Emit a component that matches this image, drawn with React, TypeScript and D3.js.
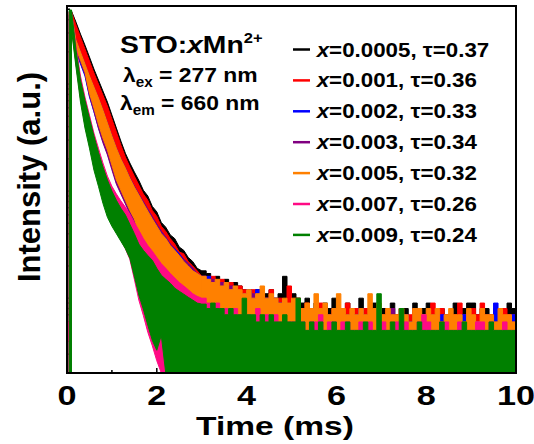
import React from "react";
import * as d3 from "d3";

const WIDTH = 534;
const HEIGHT = 444;
const PLOT = { left: 67, right: 516, top: 6, bottom: 373 };

const X_DOMAIN = [0, 10];
const Y_DOMAIN = [2, 5360];
const X_MAJOR = [0, 2, 4, 6, 8, 10];
const X_MINOR = [1, 3, 5, 7, 9];
const SAMPLE_STEP = 0.1; // ms between samples
const ONSET_TIME = 0.05; // ms, rise of the pulse
const DECAY_SAMPLES = 30; // samples t = 0.1 ... 3.0 ms (smooth decay part)

const CONCENTRATIONS = ["0.0005", "0.001", "0.002", "0.003", "0.005", "0.007", "0.009"];
const LIFETIMES = ["0.37", "0.36", "0.33", "0.34", "0.32", "0.26", "0.24"];
const COLORS = ["#000000", "#ff0000", "#0000ff", "#800080", "#ff8000", "#ff0a84", "#008000"];

// counts before onset (t = 0)
const PRE_ONSET_HI = [0, 0, 0, 0, 0, 6, 0];
const PRE_ONSET_LO = [0, 0, 0, 0, 0, 4, 0];

// upper envelope of counts, t = 0.1 ... 10.0 ms
const BLACK_HI = [
  4810, 3790, 2930, 2310, 1790, 1380, 1090, 861, 679, 513, 388, 293, 226, 183, 151, 126, 102, 90, 72, 64, 51, 46, 39, 36, 30, 28, 24, 22, 19, 18,
  17, 15, 16, 14, 15, 13, 14, 13, 12,
  12, 11, 12, 10, 11, 12, 10, 11, 16, 10,
  11, 10, 9, 10, 8, 9, 7, 9, 8, 10,
  7, 8, 9, 8, 7, 10, 8, 6, 9, 7,
  8, 7, 9, 7, 8, 8, 6, 9, 7, 8,
  9, 8, 7, 8, 6, 7, 9, 7, 8, 9,
  9, 7, 8, 8, 7, 6, 8, 7, 9, 8, 9,
];
const RED_HI = [
  4710, 3560, 2750, 2125, 1640, 1268, 1000, 789, 623, 471, 356, 269, 208, 168, 138, 114, 94, 82, 66, 58, 47, 42, 36, 32, 27, 26, 22, 20, 18, 16,
  15, 16, 14, 15, 13, 14, 12, 13, 12,
  11, 12, 10, 11, 10, 12, 9, 10, 9, 13,
  9, 10, 8, 9, 8, 8, 9, 8, 7, 8,
  8, 7, 9, 7, 8, 7, 8, 7, 7, 8,
  7, 8, 7, 7, 8, 7, 7, 8, 7, 7,
  7, 9, 7, 8, 7, 7, 7, 9, 7, 7,
  8, 7, 9, 7, 7, 8, 7, 8, 7, 7, 9,
];
const BLUE_HI = [
  4400, 2550, 1960, 1520, 1170, 925, 730, 565, 428, 325, 250, 198, 163, 132, 110, 93, 79, 67, 57, 49, 42, 37, 32, 29, 26, 23, 21, 19, 17, 16,
  16, 14, 14, 13, 13, 12, 12, 11, 11,
  12, 10, 12, 10, 10, 9, 9, 9, 9, 8,
  9, 8, 8, 8, 7, 8, 7, 7, 7, 7,
  7, 7, 7, 6, 7, 8, 6, 7, 6, 7,
  6, 7, 6, 6, 6, 7, 6, 6, 6, 7,
  6, 6, 6, 7, 6, 6, 6, 6, 7, 6,
  6, 6, 6, 6, 6, 9, 6, 6, 6, 7, 6,
];
const PURPLE_HI = [
  4450, 2560, 1970, 1530, 1180, 930, 735, 568, 430, 328, 252, 200, 165, 134, 111, 94, 80, 68, 58, 49, 42, 37, 32, 28, 25, 23, 21, 19, 17, 16,
  15, 15, 13, 14, 12, 13, 12, 11, 11,
  10, 11, 11, 10, 9, 9, 10, 9, 8, 8,
  9, 8, 8, 7, 8, 7, 7, 8, 7, 7,
  7, 6, 7, 7, 6, 7, 7, 6, 7, 6,
  6, 7, 8, 6, 6, 6, 6, 7, 6, 6,
  6, 7, 6, 6, 7, 6, 6, 6, 6, 7,
  6, 6, 6, 7, 6, 6, 6, 6, 6, 6, 6,
];
const ORANGE_HI = [
  4510, 2578, 1991, 1538, 1189, 938, 740, 571, 432, 327, 252, 199, 164, 132, 109, 92, 77, 65, 55, 47, 40, 36, 31, 28, 25, 22, 20, 18, 17, 16,
  15, 14, 15, 13, 14, 12, 13, 12, 11,
  12, 10, 11, 13, 10, 11, 10, 9, 10, 9,
  10, 9, 8, 9, 8, 11, 8, 9, 7, 8,
  11, 8, 7, 8, 7, 8, 7, 11, 8, 9,
  7, 8, 7, 7, 8, 7, 6, 8, 8, 7,
  8, 7, 8, 6, 7, 8, 7, 7, 6, 8,
  7, 6, 8, 7, 7, 6, 8, 7, 7, 6, 7,
];
const PINK_HI = [
  4710, 2265, 1189, 756, 513, 348, 252, 183, 138, 111, 94, 81, 71, 61, 51, 43, 36, 31, 27.5, 24, 21, 19, 17, 15.4, 14, 13, 12, 11, 10.4, 10,
  9, 8, 9, 8, 8, 7, 8, 7, 7,
  7, 6, 8, 6, 7, 6, 7, 6, 6, 6,
  6, 5, 6, 5, 6, 6, 7, 5, 6, 6,
  5, 6, 6, 5, 5, 6, 5, 6, 5, 5,
  6, 5, 5, 6, 5, 6, 5, 5, 6, 7,
  6, 5, 5, 6, 6, 5, 5, 6, 5, 5,
  5, 6, 6, 5, 6, 5, 5, 6, 5, 5, 6,
];
const GREEN_HI = [
  4920, 2080, 1089, 708, 481, 327, 231, 168, 127, 100, 82, 69, 60, 49, 40, 32, 28, 25, 22.6, 19, 16.4, 15, 13.8, 12.4, 11.6, 10.9, 10.2, 9.6, 9, 8.8,
  8, 9, 8, 8, 7, 8, 7, 7, 10,
  7, 7, 6, 7, 6, 7, 6, 6, 7, 6,
  6, 10, 6, 5, 6, 5, 6, 5, 5, 6,
  5, 5, 6, 5, 5, 5, 6, 5, 5, 11,
  5, 5, 6, 5, 8, 5, 5, 5, 6, 5,
  5, 5, 5, 6, 5, 5, 5, 5, 6, 5,
  5, 5, 5, 5, 6, 5, 5, 5, 5, 5, 5,
];

// lower envelope of counts from t = 0.1 ms; after the listed samples the noise reaches zero
const BLACK_LO = [3700, 2200, 1700, 1310, 840, 610, 430, 320, 248, 180, 130, 105, 84, 68, 56, 42, 33, 26, 21, 17, 13, 10];
const RED_LO = [3680, 2190, 1690, 1300, 835, 605, 428, 318, 246, 178, 129, 104, 83, 67, 56, 42, 33, 26, 21, 17, 13, 10];
const BLUE_LO = [3400, 2000, 1540, 1190, 760, 550, 392, 292, 226, 165, 120, 97, 78, 63, 52, 39, 30, 24, 19, 15, 12, 9];
const PURPLE_LO = [3500, 2060, 1590, 1230, 775, 555, 385, 283, 218, 158, 116, 94, 76, 61, 51, 38, 29, 23, 18, 14, 11, 9];
const ORANGE_LO = [3640, 2170, 1675, 1294, 824, 597, 423, 313, 242, 175, 127, 102, 82, 66, 55, 41, 32, 25, 20, 16, 13, 10];
const PINK_LO = [3337, 1538, 740, 414, 269, 171, 119, 82, 61, 49, 41, 35, 29, 23, 15, 9.6, 6.9, 4.8, 3.6, 2.6];
const GREEN_LO = [3199, 1442, 679, 388, 252, 157, 111, 77, 57, 47, 40, 34, 29, 23.6, 16, 10.7, 7.9, 5.6, 4.05, 3.26, 4.5];

const HI_SERIES = [BLACK_HI, RED_HI, BLUE_HI, PURPLE_HI, ORANGE_HI, PINK_HI, GREEN_HI];
const LO_SERIES = [BLACK_LO, RED_LO, BLUE_LO, PURPLE_LO, ORANGE_LO, PINK_LO, GREEN_LO];

const FONT = "'Liberation Sans', Arial, Helvetica, sans-serif";

type Pt = { t: number; hi: number; lo: number };

function SText(props: {
  x: number;
  y: number;
  size: number;
  sx?: number;
  anchor?: "start" | "middle" | "end";
  rotate?: number;
  children: React.ReactNode;
}) {
  const { x, y, size, sx = 1, anchor = "start", rotate = 0, children } = props;
  return (
    <g transform={`translate(${x},${y}) rotate(${rotate}) scale(${sx},1)`}>
      <text textAnchor={anchor} fontSize={size} fontWeight="bold" fontFamily={FONT} fill="#000">
        {children}
      </text>
    </g>
  );
}

export default function App() {
  const x = d3.scaleLinear().domain(X_DOMAIN).range([PLOT.left, PLOT.right]);
  const y = d3.scaleLog().domain(Y_DOMAIN).range([PLOT.bottom, PLOT.top]);
  const yv = (v: number) => (v < Y_DOMAIN[0] ? PLOT.bottom : Math.max(PLOT.top, y(v)));

  const stepArea = d3
    .area<Pt>()
    .curve(d3.curveStepAfter)
    .x((d) => x(d.t))
    .y0((d) => yv(d.lo))
    .y1((d) => yv(d.hi));
  const lineArea = d3
    .area<Pt>()
    .curve(d3.curveLinear)
    .x((d) => x(d.t))
    .y0((d) => yv(d.lo))
    .y1((d) => yv(d.hi));

  const series = HI_SERIES.map((hi, i) => {
    const lo = LO_SERIES[i];
    const samples: Pt[] = hi.map((v, k) => ({ t: (k + 1) * SAMPLE_STEP, hi: v, lo: k < lo.length ? lo[k] : 0 }));
    const onset: Pt[] = [
      { t: 0, hi: PRE_ONSET_HI[i], lo: PRE_ONSET_LO[i] },
      { t: ONSET_TIME, hi: hi[0], lo: 0 },
      samples[0],
    ];
    const decay = samples.slice(0, DECAY_SAMPLES);
    const tail = samples.slice(DECAY_SAMPLES - 1);
    return { onset, decay, tail, color: COLORS[i] };
  });

  const yTicks = y.ticks();
  const isMajor = (v: number) => Math.abs(Math.log10(v) - Math.round(Math.log10(v))) < 1e-6;

  const legendX = 293;
  const legendY0 = 56.5;
  const legendDy = 30.9;

  return (
    <div style={{ position: "fixed", left: 0, top: 0 }}>
      <svg width={WIDTH} height={HEIGHT} viewBox={`0 0 ${WIDTH} ${HEIGHT}`} style={{ display: "block", background: "#fff" }}>
        <defs>
          <clipPath id="plotClip">
            <rect x={PLOT.left} y={PLOT.top} width={PLOT.right - PLOT.left} height={PLOT.bottom - PLOT.top} />
          </clipPath>
        </defs>
        <rect x={0} y={0} width={WIDTH} height={HEIGHT} fill="#fff" />

        {/* ticks (under data) */}
        {yTicks.map((v, i) => (
          <line
            key={"yt" + i}
            x1={PLOT.left}
            x2={PLOT.left + (isMajor(v) ? 5 : 3)}
            y1={y(v)}
            y2={y(v)}
            stroke="#000"
            strokeWidth={1.5}
          />
        ))}
        {X_MAJOR.map((v) => (
          <line key={"xM" + v} x1={x(v)} x2={x(v)} y1={PLOT.bottom} y2={PLOT.bottom - 5} stroke="#000" strokeWidth={1.5} />
        ))}
        {X_MINOR.map((v) => (
          <line key={"xm" + v} x1={x(v)} x2={x(v)} y1={PLOT.bottom} y2={PLOT.bottom - 3} stroke="#000" strokeWidth={1.5} />
        ))}

        <g clipPath="url(#plotClip)">
          {series.map((s, i) => (
            <g key={i} fill={s.color} stroke={s.color} strokeWidth={1} strokeLinejoin="miter">
              <path d={stepArea(s.onset) || ""} />
              <path d={lineArea(s.decay) || ""} />
              <path d={stepArea(s.tail) || ""} />
            </g>
          ))}
        </g>

        <rect
          x={PLOT.left}
          y={PLOT.top}
          width={PLOT.right - PLOT.left}
          height={PLOT.bottom - PLOT.top}
          fill="none"
          stroke="#000"
          strokeWidth={2}
        />

        {/* x tick labels */}
        {X_MAJOR.map((v) => (
          <SText key={"xl" + v} x={x(v)} y={405} size={28.5} sx={1.2} anchor="middle">
            {String(v)}
          </SText>
        ))}
        <SText x={275} y={435} size={26} sx={1.29} anchor="middle">
          Time (ms)
        </SText>
        <SText x={40} y={177} size={31} rotate={-90} anchor="middle">
          Intensity (a.u.)
        </SText>

        {/* annotation */}
        <SText x={120} y={53} size={24} sx={1.18}>
          <tspan>STO:</tspan>
          <tspan fontStyle="italic">x</tspan>
          <tspan>Mn</tspan>
          <tspan fontSize={14} dy={-10}>2+</tspan>
        </SText>
        <SText x={123} y={82} size={21} sx={1.09}>
          <tspan>λ</tspan>
          <tspan fontSize={14} dy={5}>ex</tspan>
          <tspan dy={-5}> = 277 nm</tspan>
        </SText>
        <SText x={120} y={110} size={21} sx={1.09}>
          <tspan>λ</tspan>
          <tspan fontSize={14} dy={5}>em</tspan>
          <tspan dy={-5}> = 660 nm</tspan>
        </SText>

        {/* legend */}
        {CONCENTRATIONS.map((c, i) => {
          const by = legendY0 + i * legendDy;
          return (
            <g key={"lg" + i}>
              <line x1={legendX} x2={legendX + 17} y1={by - 7} y2={by - 7} stroke={COLORS[i]} strokeWidth={2.5} />
              <SText x={316.7} y={by} size={19.5} sx={1.145}>
                <tspan fontStyle="italic">x</tspan>
                <tspan>{`=${c}, `}</tspan>
                <tspan>τ</tspan>
                <tspan>{`=${LIFETIMES[i]}`}</tspan>
              </SText>
            </g>
          );
        })}
      </svg>
    </div>
  );
}
